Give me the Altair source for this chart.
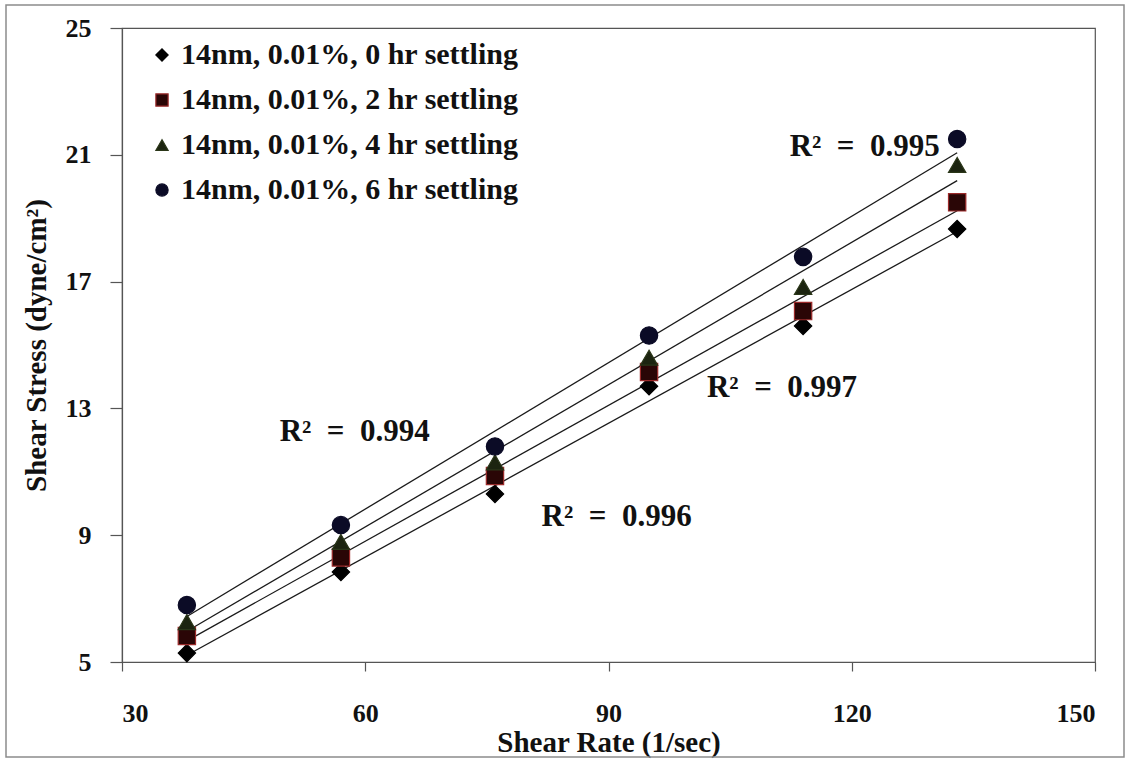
import altair as alt
import pandas as pd

# Shear rate (1/sec) at which each sample was measured
shear_rate = [38, 57, 76, 95, 114, 133]

series_names = [
    "14nm, 0.01%, 0 hr settling",
    "14nm, 0.01%, 2 hr settling",
    "14nm, 0.01%, 4 hr settling",
    "14nm, 0.01%, 6 hr settling",
]

# Shear stress (dyne/cm²) for each settling time
stress_0hr = [5.28, 7.84, 10.30, 13.70, 15.60, 18.66]
stress_2hr = [5.82, 8.30, 10.87, 14.15, 16.07, 19.50]
stress_4hr = [6.26, 8.79, 11.30, 14.60, 16.83, 20.68]
stress_6hr = [6.80, 9.32, 11.80, 15.30, 17.78, 21.50]

# Trendline R² annotations (en spaces around "=") and where they sit
r2_labels = ["R²\u2002=\u20020.994", "R²\u2002=\u20020.996", "R²\u2002=\u20020.997", "R²\u2002=\u20020.995"]
r2_x = [58.7, 91.0, 111.4, 121.6]
r2_y = [12.26, 9.57, 13.64, 21.25]

shapes = ["diamond", "square", "triangle-up", "circle"]
fills = ["#000000", "#2a0606", "#1c2410", "#0b0b26"]
strokes = ["#000000", "#9b2a2a", "#2a3618", "#0b0b26"]

rows = []
for name, vals in zip(series_names, [stress_0hr, stress_2hr, stress_4hr, stress_6hr]):
    for x, y in zip(shear_rate, vals):
        rows.append({"series": name, "rate": x, "stress": y})
df = pd.DataFrame(rows)
labels_df = pd.DataFrame({"label": r2_labels, "rate": r2_x, "stress": r2_y})

FONT = "Liberation Serif"

x_scale = alt.Scale(domain=[30, 150], nice=False, zero=False)
y_scale = alt.Scale(domain=[5, 25], nice=False, zero=False)

x_axis = alt.Axis(
    values=[30, 60, 90, 120, 150], title="Shear Rate (1/sec)", grid=False,
    tickSize=9, labelPadding=29, titlePadding=2,
)
y_axis = alt.Axis(
    values=[5, 9, 13, 17, 21, 25], title="Shear Stress (dyne/cm²)", grid=False,
    tickSize=12, labelPadding=19, titlePadding=14,
)

legend_cfg = dict(
    title=None, orient="none", legendX=25, legendY=12, padding=0,
    labelFont=FONT, labelFontWeight="bold", labelFontSize=30, labelColor="#111111",
    symbolSize=150, rowPadding=15, labelOffset=4, symbolStrokeWidth=1.2,
    labelLimit=600,
)

base = alt.Chart(df)

trend = base.transform_regression(
    "rate", "stress", groupby=["series"]
).mark_line(color="#1a1a1a", strokeWidth=1.3).encode(
    x=alt.X("rate:Q", scale=x_scale, axis=x_axis),
    y=alt.Y("stress:Q", scale=y_scale, axis=y_axis),
    detail="series:N",
)

points = base.mark_point(filled=True, size=300, opacity=1, strokeWidth=1.2).encode(
    x=alt.X("rate:Q", scale=x_scale),
    y=alt.Y("stress:Q", scale=y_scale),
    shape=alt.Shape("series:N", scale=alt.Scale(domain=series_names, range=shapes),
                    legend=alt.Legend(**legend_cfg)),
    fill=alt.Fill("series:N", scale=alt.Scale(domain=series_names, range=fills),
                  legend=alt.Legend(**legend_cfg)),
    stroke=alt.Stroke("series:N", scale=alt.Scale(domain=series_names, range=strokes),
                      legend=alt.Legend(**legend_cfg)),
)

r2_text = alt.Chart(labels_df).mark_text(
    font=FONT, fontWeight="bold", fontSize=31, color="#111111",
    align="center", baseline="middle"
).encode(
    x=alt.X("rate:Q", scale=x_scale),
    y=alt.Y("stress:Q", scale=y_scale),
    text="label:N",
)

# Outer chart-area frame
frame = alt.Chart(pd.DataFrame({"k": [0]})).mark_rect(
    fill=None, stroke="#8c8c8c", strokeWidth=1.5, clip=False
).encode(
    x=alt.value(-116), x2=alt.value(1002), y=alt.value(-23), y2=alt.value(729)
)

chart = alt.layer(frame, trend, points, r2_text).properties(
    width=973,
    height=634,
    padding={"left": 122, "top": 28, "right": 34, "bottom": 100},
    autosize=alt.AutoSizeParams(type="none"),
    background="white",
).configure_view(
    stroke="#555555", strokeWidth=1.2
).configure_axis(
    labelFont=FONT, titleFont=FONT, labelFontWeight="bold", titleFontWeight="bold",
    labelFontSize=26, titleFontSize=29, labelColor="#111111", titleColor="#111111",
    domainColor="#555555", tickColor="#555555", domainWidth=1.2, tickWidth=1.2,
)

chart.save("out.html", embed_options={"renderer": "svg", "actions": False})
